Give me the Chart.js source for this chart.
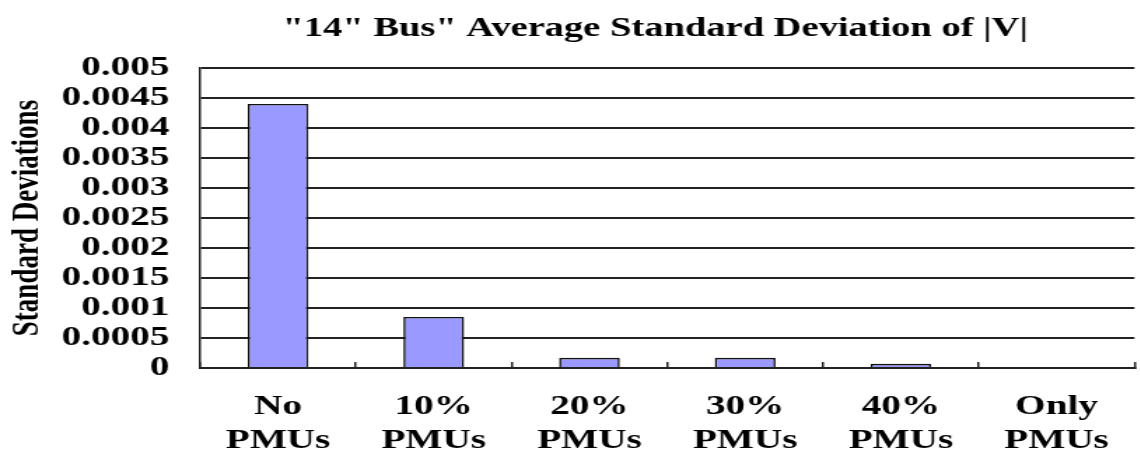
<!DOCTYPE html>
<html>
<head>
<meta charset="utf-8">
<script src="https://cdn.jsdelivr.net/npm/chart.js@4.4.0/dist/chart.umd.min.js"></script>
<style>
  html, body { margin: 0; padding: 0; background: #fff; overflow: hidden; }
  #wrap { position: absolute; left: 0; top: 0; transform: scaleX(1.4); transform-origin: 0 0; }
</style>
</head>
<body>
<div id="wrap"><canvas id="chart" width="820" height="453"></canvas></div>
<script>
  const TITLE = '"14" Bus" Average Standard Deviation of |V|';
  const Y_TITLE = "Standard Deviations";
  const categories = [
    ["No", "PMUs"],
    ["10%", "PMUs"],
    ["20%", "PMUs"],
    ["30%", "PMUs"],
    ["40%", "PMUs"],
    ["Only", "PMUs"],
  ];
  const stdDev = [0.0044, 0.00085, 0.00017, 0.00017, 0.00007, 0];
  const yTickLabels = ["0", "0.0005", "0.001", "0.0015", "0.002", "0.0025",
    "0.003", "0.0035", "0.004", "0.0045", "0.005"];

  const SERIF = '"Liberation Serif", "Times New Roman", serif';
  const LINE = "#222";

  // title is centred over the plot, not the canvas
  const titlePlugin = {
    id: "offsetTitle",
    afterDraw(chart) {
      const ctx = chart.ctx;
      ctx.save();
      ctx.font = `bold 27.5px ${SERIF}`;
      ctx.fillStyle = "#000";
      ctx.textAlign = "center";
      ctx.textBaseline = "middle";
      ctx.fillText(TITLE, 468, 29);
      ctx.restore();
    },
  };

  new Chart(document.getElementById("chart"), {
    type: "bar",
    data: {
      labels: categories,
      datasets: [
        {
          data: stdDev,
          backgroundColor: "#9999ff",
          borderColor: "#111",
          borderWidth: 1.6,
          barPercentage: 0.39,
          categoryPercentage: 1,
        },
      ],
    },
    options: {
      responsive: false,
      animation: false,
      layout: { padding: { top: 68, right: 0, bottom: 0, left: 0 } },
      plugins: {
        legend: { display: false },
        tooltip: { enabled: false },
        title: { display: false },
      },
      scales: {
        x: {
          afterFit: (scale) => { scale.height = 85; },
          grid: {
            display: true,
            offset: true,
            drawOnChartArea: false,
            drawTicks: true,
            tickLength: -6,
            color: LINE,
            lineWidth: 1.5,
          },
          border: { display: true, color: LINE, width: 2 },
          ticks: {
            color: "#000",
            padding: 28,
            maxRotation: 0,
            autoSkip: false,
            font: { family: SERIF, size: 28, weight: "bold", lineHeight: 1.22 },
          },
        },
        y: {
          min: 0,
          max: 0.005,
          afterFit: (scale) => { scale.width = 143; },
          grid: { color: LINE, lineWidth: 2, drawTicks: false },
          border: { display: true, color: LINE, width: 1.5 },
          ticks: {
            stepSize: 0.0005,
            autoSkip: false,
            color: "#000",
            padding: 22,
            font: { family: SERIF, size: 28, weight: "bold" },
            callback: (value, index) => yTickLabels[index],
          },
          title: {
            display: true,
            text: Y_TITLE,
            color: "#000",
            padding: { top: 4, bottom: 0 },
            font: { family: SERIF, size: 27, weight: "bold", lineHeight: 1.2 },
          },
        },
      },
    },
    plugins: [titlePlugin],
  });
</script>
</body>
</html>
